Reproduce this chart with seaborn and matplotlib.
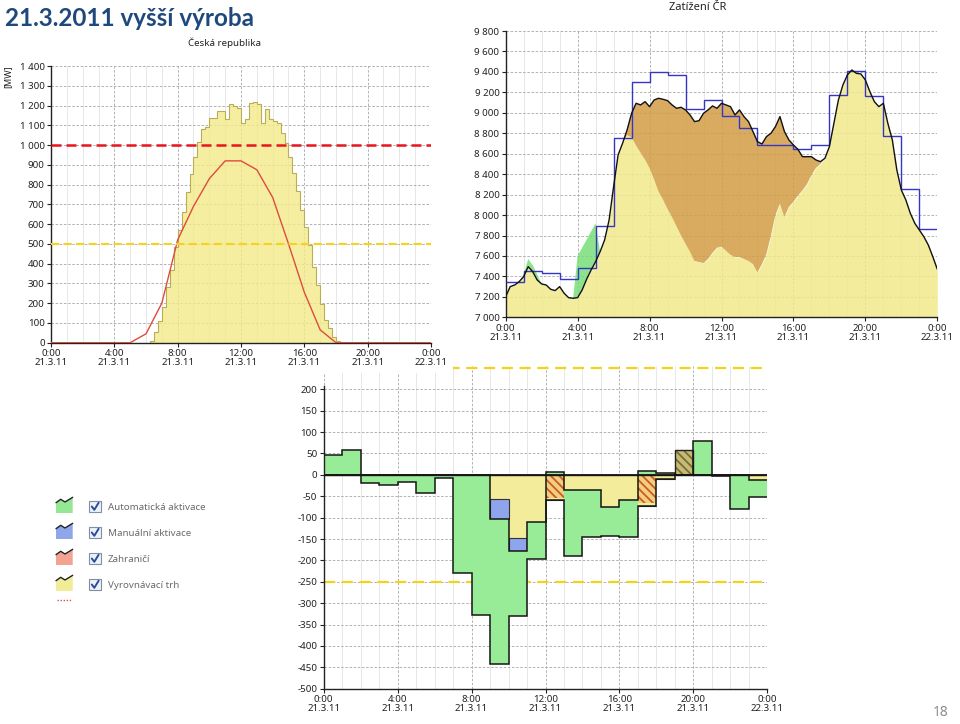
import matplotlib
matplotlib.use("Agg")
import matplotlib.pyplot as plt
from matplotlib.patches import Rectangle, Polygon
import numpy as np
import seaborn as sns

# ---------------- data ----------------
time_labels = ["0:00\n21.3.11", "4:00\n21.3.11", "8:00\n21.3.11", "12:00\n21.3.11",
               "16:00\n21.3.11", "20:00\n21.3.11", "0:00\n22.3.11"]

# Česká republika - solar output (15 min steps from 6:15) and hourly forecast
solar_first_hour = 6.25
solar_mw = [10, 55, 110, 180, 283, 370, 485, 570, 663, 760, 853, 940,
            1013, 1080, 1093, 1138, 1138, 1170, 1170, 1130, 1208, 1197, 1190, 1113,
            1130, 1214, 1220, 1208, 1113, 1184, 1133, 1123, 1113, 1060, 1009, 940,
            860, 766, 671, 584, 494, 385, 292, 196, 115, 73, 27, 10]
forecast_hours = list(range(25))
forecast_mw = [0, 0, 0, 0, 0, 0, 45, 200, 520, 690, 830, 920, 920, 875, 735, 500,
               255, 65, 0, 0, 0, 0, 0, 0, 0]
solar_limit_red = 1000
solar_limit_gold = 500
solar_yticks = [0, 100, 200, 300, 400, 500, 600, 700, 800, 900, 1000, 1100, 1200, 1300, 1400]
solar_ylabels = ["0", "100", "200", "300", "400", "500", "600", "700", "800", "900",
                 "1 000", "1 100", "1 200", "1 300", "1 400"]

# Zatížení ČR - load (15 min), covered part (15 min), hourly plan
load_hours = [q / 4 for q in range(97)]
load_mw = [7202, 7300, 7316, 7349, 7398, 7495, 7447, 7365,
           7326, 7316, 7274, 7261, 7300, 7235, 7192, 7186,
           7192, 7267, 7372, 7463, 7544, 7642, 7756, 7952,
           8278, 8588, 8702, 8832, 8995, 9093, 9077, 9109,
           9060, 9125, 9142, 9132, 9119, 9077, 9044, 9054,
           9028, 8979, 8914, 8923, 8995, 9028, 9067, 9044,
           9093, 9077, 9060, 8979, 9028, 8963, 8914, 8816,
           8718, 8695, 8767, 8800, 8865, 8963, 8816, 8734,
           8685, 8643, 8571, 8571, 8571, 8539, 8522, 8555,
           8669, 8897, 9125, 9272, 9370, 9419, 9386, 9380,
           9321, 9207, 9109, 9060, 9093, 8897, 8734, 8441,
           8245, 8148, 8017, 7919, 7854, 7789, 7707, 7593, 7470]
cover_mw = [7202, 7300, 7316, 7349, 7420, 7570, 7510, 7420,
            7326, 7316, 7274, 7261, 7300, 7235, 7192, 7186,
            7600, 7680, 7760, 7840, 7920, 7642, 7756, 7952,
            8278, 8588, 8702, 8780, 8760, 8680, 8610, 8540,
            8460, 8350, 8230, 8150, 8060, 7980, 7890, 7800,
            7720, 7640, 7550, 7540, 7530, 7570, 7630, 7680,
            7690, 7650, 7610, 7590, 7590, 7570, 7550, 7520,
            7440, 7520, 7620, 7800, 8000, 8110, 7980, 8080,
            8130, 8190, 8240, 8300, 8390, 8460, 8500, 8555,
            8669, 8897, 9125, 9272, 9370, 9419, 9386, 9380,
            9321, 9207, 9109, 9060, 9093, 8897, 8734, 8441,
            8245, 8148, 8017, 7919, 7854, 7789, 7707, 7593, 7470]
plan_mw = [7350, 7450, 7430, 7370, 7480, 7890, 8750, 9305, 9400, 9370, 9035, 9130,
           8970, 8850, 8685, 8685, 8645, 8685, 9175, 9410, 9165, 8775, 8250, 7860]
load_yticks = list(range(7000, 9801, 200))
load_ylabels = ["7 000", "7 200", "7 400", "7 600", "7 800", "8 000", "8 200", "8 400",
                "8 600", "8 800", "9 000", "9 200", "9 400", "9 600", "9 800"]

# regulation energy per hour
hours = list(range(24))
automatic = [47, 57, -18, -24, -17, -43, -8, -230, -328, -340, -152, -85,
             6, -154, -110, -67, -87, 8, 4, 0, 78, -2, -79, -39]
manual = [0, 0, 0, 0, 0, 0, 0, 0, 0, -47, -30, 0,
          0, 0, 0, 0, 0, 0, 0, 0, 0, 0, 0, 0]
balancing = [0, 0, 0, 0, 0, 0, 0, 0, 0, -56, -148, -111,
             -5, -35, -35, -75, -58, -7, -10, 0, 0, 0, 0, -12]
abroad = [0, 0, 0, 0, 0, 0, 0, 0, 0, 0, 0, 0,
          -53, 0, 0, 0, 0, -65, 0, 57, 0, 0, 0, 0]
reg_limit = 250
reg_yticks = list(range(-500, 201, 50))
reg_ylabels = [str(v) for v in reg_yticks]

legend_names = ["Automatická aktivace", "Manuální aktivace", "Zahraničí", "Vyrovnávací trh"]
legend_colors = ["#94e894", "#8fa6ea", "#f2a391", "#f1ec98"]

# ---------------- style ----------------
sns.set_theme(style="white")
plt.rcParams['font.family'] = ['Noto Sans', 'DejaVu Sans']
plt.rcParams['hatch.linewidth'] = 1.3

fig = plt.figure(figsize=(9.6, 7.24), dpi=100)
W, H = 960, 724


def px_axes(x0, y0, x1, y1):
    return fig.add_axes([x0 / W, 1 - y1 / H, (x1 - x0) / W, (y1 - y0) / H])


def style(ax, yticks, ylabels):
    ax.set_xlim(0, 24)
    ax.set_xticks(range(0, 25, 4))
    ax.set_xticklabels(time_labels)
    ax.set_xticks(range(25), minor=True)
    ax.set_yticks(yticks)
    ax.set_yticklabels(ylabels)
    ax.grid(which='major', color='#a6a6a6', linestyle=(0, (3, 2)), linewidth=0.6)
    ax.grid(which='minor', axis='x', color='#e3e3e3', linestyle='-', linewidth=0.6)
    ax.spines['top'].set_visible(False)
    ax.spines['right'].set_visible(False)
    for s in ['left', 'bottom']:
        ax.spines[s].set_color('#222222')
        ax.spines[s].set_linewidth(1.0)
    ax.tick_params(which='major', bottom=True, left=True, length=3, width=0.8,
                   labelsize=7, pad=1.5, colors='#222222')
    ax.tick_params(which='minor', length=0)
    for lab in ax.get_xticklabels():
        lab.set_linespacing(1.0)
    ax.set_xlabel("")
    ax.set_ylabel("")
    ax.set_axisbelow(True)


# ---- chart 1: Česká republika
ax1 = px_axes(51, 66, 431, 342.7)
edges = [solar_first_hour + 0.25 * i for i in range(len(solar_mw) + 1)]
ax1.stairs(solar_mw, edges, fill=True, color='#f3ea8a', alpha=0.8, zorder=1)
ax1.stairs(solar_mw, edges, color='#b9ad55', linewidth=0.8, zorder=1.2)
sns.lineplot(x=forecast_hours, y=forecast_mw, ax=ax1, color='#dd4b40', linewidth=1.0, zorder=3)
ax1.axhline(solar_limit_red, color='#e8141e', linewidth=1.8, linestyle=(0, (4, 2)), zorder=4)
ax1.axhline(solar_limit_gold, color='#f5d31c', linewidth=1.5, linestyle=(0, (4, 2)), zorder=4)
ax1.set_ylim(0, 1400)
style(ax1, solar_yticks, solar_ylabels)
ax1.set_zorder(2)

# ---- chart 2: Zatížení ČR
ax2 = px_axes(505.7, 31, 937.3, 317.3)
t = np.array(load_hours)
load = np.array(load_mw)
cover = np.array(cover_mw)
ax2.fill_between(t, 7000, np.minimum(load, cover), color='#f0e98b', alpha=0.85,
                 linewidth=0, zorder=1)
ax2.fill_between(t, cover, load, where=load >= cover, interpolate=True,
                 color='#d29d44', alpha=0.85, linewidth=0, zorder=1)
ax2.fill_between(t, load, cover, where=cover >= load, interpolate=True,
                 color='#79de79', alpha=0.85, linewidth=0, zorder=1)
ax2.stairs(plan_mw, list(range(25)), baseline=None, color='#3535c8', linewidth=1.0, zorder=3)
sns.lineplot(x=load_hours, y=load_mw, ax=ax2, color='#111111', linewidth=1.0, zorder=4)
ax2.set_ylim(7000, 9800)
style(ax2, load_yticks, load_ylabels)
ax2.set_zorder(2)

# ---- chart 3: regulation
ax3 = px_axes(323.7, 365.8, 767.3, 688.7)
ab = np.array(abroad)
ab_neg = np.minimum(ab, 0)
ab_pos = np.maximum(ab, 0)
bal = np.array(balancing)
man = np.array(manual)
auto = np.array(automatic)
base1 = ab_neg
base2 = base1 + bal
base3 = base2 + man
auto_neg = np.minimum(auto, 0)
auto_pos = np.maximum(auto, 0)

ax3.axhline(reg_limit, color='#f2d21a', linewidth=1.6, linestyle=(0, (5, 3)), zorder=1.5)
ax3.axhline(-reg_limit, color='#f2d21a', linewidth=1.6, linestyle=(0, (5, 3)), zorder=1.5)
kw = dict(width=1, align='edge', zorder=2)
ax3.bar(hours, bal, bottom=base1, color='#f3ec9a', linewidth=0, **kw)
ax3.bar(hours, man, bottom=base2, color='#8ea4ec', edgecolor='#333333', linewidth=0.8, **kw)
ax3.bar(hours, auto_neg, bottom=base3, color='#98ec98', linewidth=0, **kw)
ax3.bar(hours, auto_pos, color='#98ec98', linewidth=0, **kw)
ax3.bar(hours, ab_neg, color='#f2cf7c', edgecolor='#cc5a2a', hatch='\\\\\\\\', linewidth=0, **kw)
ax3.bar(hours, ab_pos, color='#c4bc72', edgecolor='#7d6a3c', hatch='\\\\\\\\', linewidth=0, **kw)
ax3.bar(hours, ab_pos, fill=False, edgecolor='#222222', linewidth=1.0, width=1, align='edge', zorder=3)
upper = np.where(auto > 0, auto, base3)
lower = base3 + auto_neg
ax3.stairs(upper, list(range(25)), baseline=None, color='#151515', linewidth=1.1, zorder=3)
ax3.stairs(lower, list(range(25)), baseline=None, color='#151515', linewidth=1.1, zorder=3)
ax3.axhline(0, color='#151515', linewidth=1.3, zorder=3.5)
ax3.set_ylim(-500, 255)
style(ax3, reg_yticks, reg_ylabels)
ax3.spines['left'].set_bounds(-500, 207)
ax3.set_zorder(0)

# ---- overlay: titles, legend, page number
ov = fig.add_axes([0, 0, 1, 1])
ov.set_xlim(0, W)
ov.set_ylim(H, 0)
ov.axis('off')
ov.patch.set_visible(False)
ov.set_zorder(1)
ov.add_patch(Rectangle((0, 344), 453, 29, facecolor='white', edgecolor='none', zorder=0))

ov.text(5, 18, "21.3.2011 vyšší výroba", fontsize=17.5, fontweight='bold', color='#1f497d',
        family=['Lato', 'DejaVu Sans'], ha='left', va='center')
ov.text(224, 43, "Česká republika", fontsize=7, color='#222222', ha='center', va='center')
ov.text(698, 7, "Zatížení ČR", fontsize=8, color='#222222', ha='center', va='center')
ov.text(8, 77, "[MW]", fontsize=6.5, color='#222222', rotation=90, ha='center', va='center')
ov.text(941, 713, "18", fontsize=10, color='#8c8c8c', ha='center', va='center')

for i, (name, col) in enumerate(zip(legend_names, legend_colors)):
    c = 507 + 26 * i
    zig = [(56, c - 4.3), (60.7, c - 7.7), (65, c - 5), (72.7, c - 9.7)]
    ov.add_patch(Polygon(zig + [(72.7, c + 6), (56, c + 6)], closed=True,
                         facecolor=col, edgecolor='none'))
    ov.plot([p[0] for p in zig], [p[1] for p in zig], color='#222222', linewidth=1.0)
    ov.add_patch(Rectangle((89.3, c - 6), 11.4, 11, facecolor='#eef2f8',
                           edgecolor='#8090a4', linewidth=0.8))
    ov.plot([91.8, 94.3, 98.6], [c - 0.5, c + 2.8, c - 4.2], color='#2b4c9c', linewidth=1.4)
    ov.text(107.5, c, name, fontsize=7, color='#6a6a6a', ha='left', va='center')
ov.plot([57, 72], [600, 600], color='#e05050', linewidth=1.0, linestyle=(0, (1, 1.2)))

fig.savefig("out.png", dpi=100)
